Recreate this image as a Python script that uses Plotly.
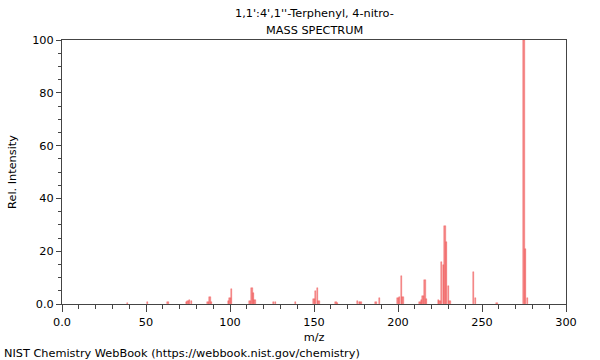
import plotly.graph_objects as go

title_line1 = "1,1':4',1''-Terphenyl, 4-nitro-"
title_line2 = "MASS SPECTRUM"
footer = "NIST Chemistry WebBook (https://webbook.nist.gov/chemistry)"

mz = [39, 51, 63, 74, 75, 76, 77, 87, 88, 89, 99, 100, 101, 112, 113, 114, 115,
      126, 127, 139, 150, 151, 152, 153, 163, 164, 176, 177, 178, 187, 189,
      200, 201, 202, 203, 213, 214, 215, 216, 217, 224, 225, 226, 227, 228,
      229, 230, 231, 245, 246, 259, 275, 276, 277]
intensity = [0.3, 0.8, 0.6, 0.8, 1.2, 1.5, 1.0, 0.8, 2.6, 0.6, 1.2, 2.2, 5.6,
             1.2, 6.0, 4.2, 1.6, 0.8, 0.6, 0.6, 1.8, 5.0, 6.0, 1.0, 0.6, 0.5,
             1.0, 0.6, 0.8, 0.8, 2.2, 2.4, 2.6, 10.6, 2.8, 0.6, 1.4, 3.0, 9.0,
             2.0, 1.4, 1.2, 16.0, 14.8, 29.6, 23.6, 7.0, 1.2, 12.0, 2.2, 0.5,
             100.0, 20.8, 2.2]

x_ticks = [0, 50, 100, 150, 200, 250, 300]
x_labels = ["0.0", "50", "100", "150", "200", "250", "300"]
y_ticks = [0, 20, 40, 60, 80, 100]
y_labels = ["0.0", "20", "40", "60", "80", "100"]

bar_color = "rgba(240,70,70,0.65)"

fig = go.Figure()
fig.add_trace(go.Bar(x=mz, y=intensity, width=0.9,
                     marker=dict(color=bar_color, line=dict(width=0.5, color=bar_color))))

font = dict(family="DejaVu Sans", size=11.3, color="#000")
fig.update_layout(
    width=600, height=360,
    margin=dict(l=62, r=34, t=40, b=56, autoexpand=False),
    paper_bgcolor="white", plot_bgcolor="white",
    showlegend=False, font=font, bargap=0,
    annotations=[
        dict(text=title_line1, x=0.5, y=1, xref="paper", yref="paper",
             yshift=27, showarrow=False, font=font, yanchor="middle"),
        dict(text=title_line2, x=0.5, y=1, xref="paper", yref="paper",
             yshift=10, showarrow=False, font=font, yanchor="middle"),
        dict(text=footer, x=0, y=0, xref="paper", yref="paper", xanchor="left",
             yanchor="middle", showarrow=False, font=font, xshift=-60, yshift=-49),
    ],
)
fig.update_xaxes(range=[0, 300], tickvals=x_ticks, ticktext=x_labels,
                 automargin=False,
                 showgrid=False, zeroline=False, showline=True, linecolor="#444",
                 linewidth=1, mirror=True, ticks="outside", ticklen=7,
                 tickcolor="#444",
                 minor=dict(dtick=10, tick0=0, ticks="outside", ticklen=4,
                            tickcolor="#444", showgrid=False),
                 title=dict(text="m/z", font=font, standoff=5))
fig.update_yaxes(range=[0, 100], tickvals=y_ticks, ticktext=y_labels,
                 automargin=False,
                 showgrid=False, zeroline=False, showline=True, linecolor="#444",
                 linewidth=1, mirror=True, ticks="outside", ticklen=5,
                 tickcolor="#444",
                 minor=dict(dtick=5, tick0=0, ticks="outside", ticklen=3,
                            tickcolor="#444", showgrid=False),
                 title=dict(text="Rel. Intensity", font=font, standoff=13))

fig.write_html("out.html", config={"displayModeBar": False},
               post_script="document.body.style.margin='0';")
